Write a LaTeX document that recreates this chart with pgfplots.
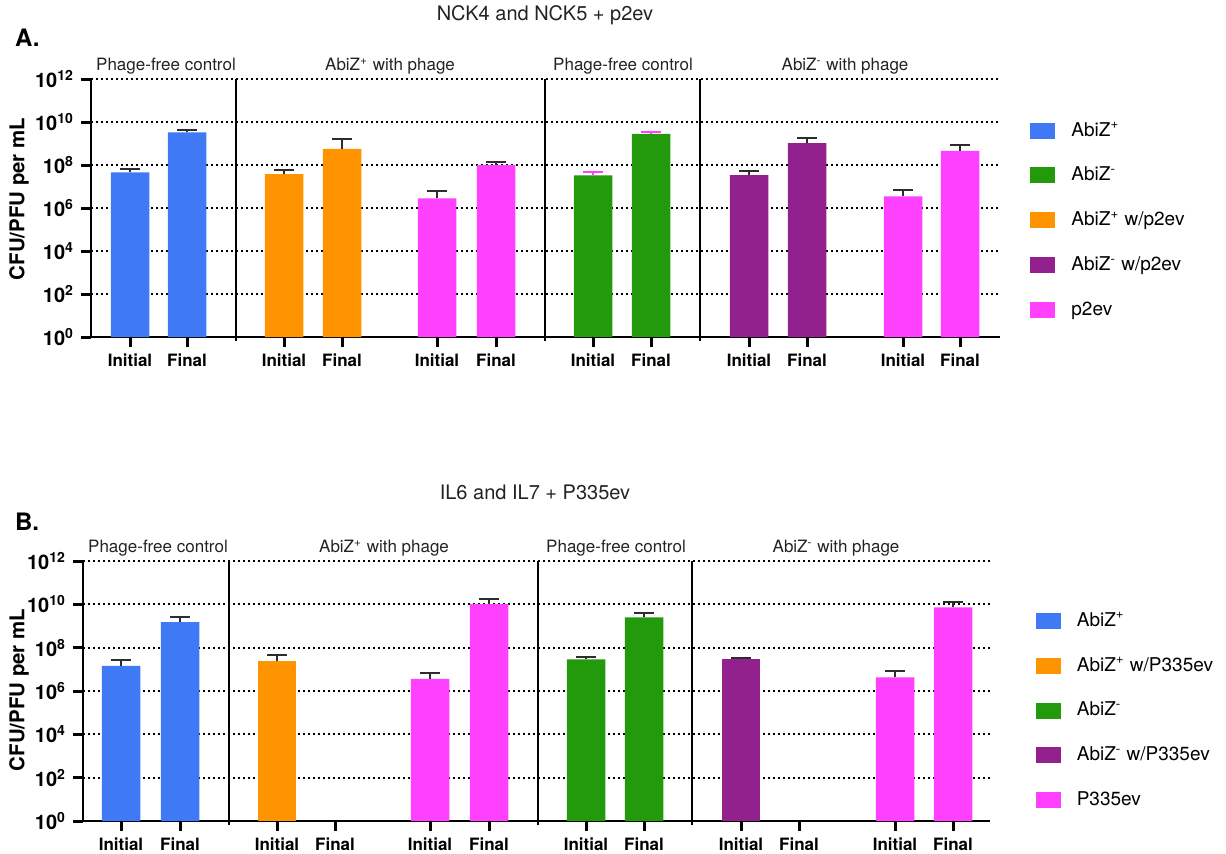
\documentclass[border=0pt]{standalone}
\usepackage{pgfplots}
\pgfplotsset{compat=1.18}
\usepackage{fontspec}
\setmainfont{TeX Gyre Heros}
\definecolor{cblue}{RGB}{64,121,246}
\definecolor{cgreen}{RGB}{35,153,12}
\definecolor{corange}{RGB}{255,147,0}
\definecolor{cpurple}{RGB}{146,33,141}
\definecolor{cmag}{RGB}{255,64,255}
\definecolor{ctext}{RGB}{35,35,35}
\definecolor{cerr}{RGB}{45,45,45}
\pgfplotsset{
  every axis/.append style={
    scale only axis, clip=false,
    yminorticks=false,
    ymajorgrids,
    axis x line*=bottom, axis y line*=left,
    legend cell align=left,
  },
  major grid style={black, line width=1pt, dash pattern=on 1pt off 1.5pt},
  axis line style={line width=1.4pt, black},
  tick style={line width=1.5pt, black},
  yticklabel style={font=\fontsize{10}{10}\selectfont},
  xticklabel style={font=\fontsize{8.5}{10}\selectfont\bfseries},
}
\newcommand{\seclabel}[2]{\node[font=\fontsize{8.5}{10}\selectfont, text=ctext, anchor=base] at (axis cs:#1,1e12) [yshift=4.5pt] {#2};}
\newcommand{\sepline}[1]{\draw[line width=1.1pt] (axis cs:#1,0.65) -- (axis cs:#1,1e12);}
\newcommand{\xtk}[1]{\draw[line width=1.5pt] (axis cs:#1,1) -- ([yshift=-5pt]axis cs:#1,1);}
\newcommand{\ytk}[2]{\draw[line width=1.5pt] (axis cs:#1,#2) -- ([xshift=-5pt]axis cs:#1,#2);}
\begin{document}
\begin{tikzpicture}
\useasboundingbox (0,0) rectangle (613pt,-426.5pt);
% ---------- Panel A ----------
\node[font=\fontsize{10}{12}\selectfont, text=ctext] at (272.5pt,-7.5pt) {NCK4 and NCK5 + p2ev};
\node[font=\fontsize{12}{14}\selectfont\bfseries, anchor=west] at (4pt,-19pt) {A.};
\node[font=\fontsize{10.2}{12}\selectfont\bfseries, rotate=90] at (9.5pt,-99.5pt) {CFU/PFU per mL};
\begin{axis}[at={(45.5pt,-168.5pt)}, anchor=south west,
  width=454.5pt, height=129pt, xmin=91, xmax=1000,
  xtick align=outside, ytick align=outside, major tick length=5pt,
  ymode=log, ymin=1, ymax=1e12,
  ytick={1,1e2,1e4,1e6,1e8,1e10,1e12},
  yticklabels={\textbf{10\textsuperscript{0}},\textbf{10\textsuperscript{2}},\textbf{10\textsuperscript{4}},\textbf{10\textsuperscript{6}},\textbf{10\textsuperscript{8}},\textbf{10\textsuperscript{10}},\textbf{10\textsuperscript{12}}},
  xtick={130,187,284,342,437,496,593,651,749,807,903,960},
  xticklabels={Initial,Final,Initial,Final,Initial,Final,Initial,Final,Initial,Final,Initial,Final},
  ybar, bar width=19.25pt,
  legend image code/.code={\fill[#1] (0pt,-4pt) rectangle (12.5pt,4pt);},
  legend style={draw=none, fill=none, anchor=north west, inner sep=0pt,
      font=\fontsize{9.5}{11}\selectfont, row sep=10pt, at={(1.033,0.85)},
      /tikz/every odd column/.append style={column sep=6pt}}]
\addplot[fill=cblue, draw=none, bar shift=0pt, error bars/.cd, y dir=plus, y explicit, error bar style={line width=1pt, cerr}, error mark options={line width=1pt, cerr, mark size=5pt, rotate=90}] coordinates {(130,4.5e7) +- (0,2.2e7) (187,3.3e9) +- (0,0.8e9)};
\addlegendentry{AbiZ\textsuperscript{+}}
\addplot[fill=cgreen, draw=none, bar shift=0pt, error bars/.cd, y dir=plus, y explicit, error bar style={line width=1pt, cmag}, error mark options={line width=1pt, cmag, mark size=5pt, rotate=90}] coordinates {(593,3.3e7) +- (0,1.4e7) (651,2.8e9) +- (0,0.7e9)};
\addlegendentry{AbiZ\textsuperscript{-}}
\addplot[fill=corange, draw=none, bar shift=0pt, error bars/.cd, y dir=plus, y explicit, error bar style={line width=1pt, cerr}, error mark options={line width=1pt, cerr, mark size=5pt, rotate=90}] coordinates {(284,3.8e7) +- (0,2.1e7) (342,5.7e8) +- (0,9.8e8)};
\addlegendentry{AbiZ\textsuperscript{+} w/p2ev}
\addplot[fill=cpurple, draw=none, bar shift=0pt, error bars/.cd, y dir=plus, y explicit, error bar style={line width=1pt, cerr}, error mark options={line width=1pt, cerr, mark size=5pt, rotate=90}] coordinates {(749,3.4e7) +- (0,1.8e7) (807,1.05e9) +- (0,0.75e9)};
\addlegendentry{AbiZ\textsuperscript{-} w/p2ev}
\addplot[fill=cmag, draw=none, bar shift=0pt, error bars/.cd, y dir=plus, y explicit, error bar style={line width=1pt, cerr}, error mark options={line width=1pt, cerr, mark size=5pt, rotate=90}] coordinates {(437,2.8e6) +- (0,3.5e6) (496,1.0e8) +- (0,0.4e8) (903,3.5e6) +- (0,3.4e6) (960,4.5e8) +- (0,3.7e8)};
\addlegendentry{p2ev}
\sepline{236}
\sepline{545}
\sepline{700}
\xtk{130}\xtk{187}\xtk{284}\xtk{342}\xtk{437}\xtk{496}\xtk{593}\xtk{651}\xtk{749}\xtk{807}\xtk{903}\xtk{960}
\ytk{91}{1}\ytk{91}{1e2}\ytk{91}{1e4}\ytk{91}{1e6}\ytk{91}{1e8}\ytk{91}{1e10}\ytk{91}{1e12}
\seclabel{166}{Phage-free control}
\seclabel{390}{AbiZ\textsuperscript{+} with phage}
\seclabel{623}{Phage-free control}
\seclabel{845}{AbiZ\textsuperscript{-} with phage}
\end{axis}
% ---------- Panel B ----------
\node[font=\fontsize{10}{12}\selectfont, text=ctext] at (267.5pt,-246pt) {IL6 and IL7 + P335ev};
\node[font=\fontsize{12}{14}\selectfont\bfseries, anchor=west] at (4pt,-261pt) {B.};
\node[font=\fontsize{10.2}{12}\selectfont\bfseries, rotate=90] at (9.5pt,-345pt) {CFU/PFU per mL};
\begin{axis}[at={(41.5pt,-410.5pt)}, anchor=south west,
  width=453.5pt, height=130pt, xmin=83, xmax=990,
  xtick align=outside, ytick align=outside, major tick length=5pt,
  ymode=log, ymin=1, ymax=1e12,
  ytick={1,1e2,1e4,1e6,1e8,1e10,1e12},
  yticklabels={\textbf{10\textsuperscript{0}},\textbf{10\textsuperscript{2}},\textbf{10\textsuperscript{4}},\textbf{10\textsuperscript{6}},\textbf{10\textsuperscript{8}},\textbf{10\textsuperscript{10}},\textbf{10\textsuperscript{12}}},
  xtick={121,180,277,335,430,489,586,644,741,799,895,953},
  xticklabels={Initial,Final,Initial,Final,Initial,Final,Initial,Final,Initial,Final,Initial,Final},
  ybar, bar width=19.25pt,
  legend image code/.code={\fill[#1] (0pt,-4pt) rectangle (12.5pt,4pt);},
  legend style={draw=none, fill=none, anchor=north west, inner sep=0pt,
      font=\fontsize{9.5}{11}\selectfont, row sep=10pt, at={(1.05,0.82)},
      /tikz/every odd column/.append style={column sep=6pt}}]
\addplot[fill=cblue, draw=none, bar shift=0pt, error bars/.cd, y dir=plus, y explicit, error bar style={line width=1pt, cerr}, error mark options={line width=1pt, cerr, mark size=5pt, rotate=90}] coordinates {(121,1.44e7) +- (0,1.16e7) (180,1.5e9) +- (0,1.2e9)};
\addlegendentry{AbiZ\textsuperscript{+}}
\addplot[fill=corange, draw=none, bar shift=0pt, error bars/.cd, y dir=plus, y explicit, error bar style={line width=1pt, cerr}, error mark options={line width=1pt, cerr, mark size=5pt, rotate=90}] coordinates {(277,2.4e7) +- (0,2.4e7)};
\addlegendentry{AbiZ\textsuperscript{+} w/P335ev}
\addplot[fill=cgreen, draw=none, bar shift=0pt, error bars/.cd, y dir=plus, y explicit, error bar style={line width=1pt, cerr}, error mark options={line width=1pt, cerr, mark size=5pt, rotate=90}] coordinates {(586,2.9e7) +- (0,0.8e7) (644,2.5e9) +- (0,1.6e9)};
\addlegendentry{AbiZ\textsuperscript{-}}
\addplot[fill=cpurple, draw=none, bar shift=0pt, error bars/.cd, y dir=plus, y explicit, error bar style={line width=1pt, cerr}, error mark options={line width=1pt, cerr, mark size=5pt, rotate=90}] coordinates {(741,2.9e7) +- (0,0.6e7)};
\addlegendentry{AbiZ\textsuperscript{-} w/P335ev}
\addplot[fill=cmag, draw=none, bar shift=0pt, error bars/.cd, y dir=plus, y explicit, error bar style={line width=1pt, cerr}, error mark options={line width=1pt, cerr, mark size=5pt, rotate=90}] coordinates {(430,3.6e6) +- (0,3.0e6) (489,1.02e10) +- (0,0.78e10) (895,4.3e6) +- (0,4.4e6) (953,7.3e9) +- (0,5.7e9)};
\addlegendentry{P335ev}
\sepline{229}
\sepline{538}
\sepline{692}
\xtk{121}\xtk{180}\xtk{277}\xtk{335}\xtk{430}\xtk{489}\xtk{586}\xtk{644}\xtk{741}\xtk{799}\xtk{895}\xtk{953}
\ytk{83}{1}\ytk{83}{1e2}\ytk{83}{1e4}\ytk{83}{1e6}\ytk{83}{1e8}\ytk{83}{1e10}\ytk{83}{1e12}
\seclabel{158}{Phage-free control}
\seclabel{384}{AbiZ\textsuperscript{+} with phage}
\seclabel{616}{Phage-free control}
\seclabel{836}{AbiZ\textsuperscript{-} with phage}
\end{axis}
\end{tikzpicture}
\end{document}
